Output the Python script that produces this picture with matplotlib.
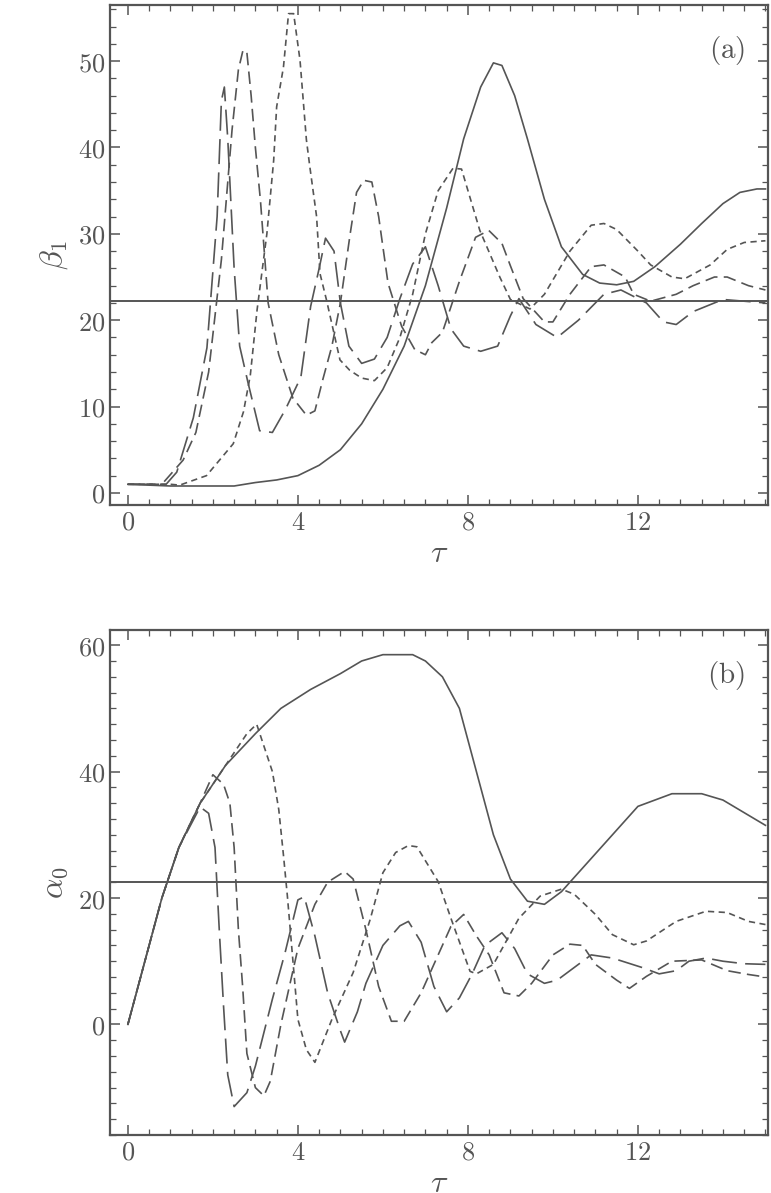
import matplotlib
matplotlib.use("Agg")
import matplotlib.pyplot as plt
from matplotlib.ticker import MultipleLocator, FuncFormatter

plt.rcParams['mathtext.fontset'] = 'cm'
plt.rcParams['font.family'] = ['DejaVu Serif']
plt.rcParams['lines.scale_dashes'] = False

C = '#555555'

# ---------------- panel (a): beta_1 ----------------
a_solid_t = [0, 1, 2, 2.5, 3, 3.5, 4, 4.5, 5, 5.5, 6, 6.5, 7, 7.5, 7.9, 8.3, 8.6, 8.8, 9.1, 9.4, 9.8, 10.2, 10.7, 11.1, 11.5, 11.9, 12.4, 13.0, 13.5, 14.0, 14.4, 14.8, 15.0]
a_solid_v = [1, 0.8, 0.8, 0.8, 1.2, 1.5, 2, 3.2, 5, 8, 12, 17, 24, 33, 41, 47, 49.8, 49.5, 46, 41, 34, 28.5, 25.3, 24.3, 24.1, 24.5, 26.2, 28.8, 31.2, 33.5, 34.8, 35.2, 35.2]

a_short_t = [0, 1.0, 1.22, 1.85, 2.48, 2.72, 2.88, 3.04, 3.27, 3.43, 3.5, 3.66, 3.78, 3.9, 4.05, 4.2, 4.28, 4.44, 4.52, 4.67, 4.99, 5.22, 5.5, 5.8, 6.1, 6.4, 6.7, 7.0, 7.3, 7.65, 7.85, 8.28, 8.75, 9.0, 9.46, 9.8, 10.4, 10.9, 11.2, 11.5, 12.0, 12.3, 12.8, 13.1, 13.7, 14.1, 14.5, 15.0]
a_short_v = [1, 1, 0.9, 2.0, 5.7, 9.4, 13.6, 21.2, 30, 38.5, 44.7, 49.3, 55.5, 55.5, 50.1, 40.9, 37.8, 32.0, 25.4, 22.4, 15.4, 14.2, 13.3, 13.0, 14.5, 18, 23, 30, 35, 37.6, 37.5, 30.4, 25, 22.4, 21.3, 23, 28, 31, 31.2, 30.5, 28, 26.4, 25, 24.8, 26.4, 28.2, 29, 29.2]

a_med_t = [0, 0.8, 1.3, 1.6, 1.9, 2.2, 2.45, 2.6, 2.71, 2.8, 2.9, 3.0, 3.12, 3.3, 3.55, 3.88, 4.2, 4.4, 4.59, 4.8, 5.0, 5.23, 5.38, 5.55, 5.74, 5.9, 6.12, 6.44, 6.75, 7.0, 7.15, 7.4, 7.8, 8.18, 8.49, 8.8, 9.0, 9.3, 9.8, 10.0, 10.4, 10.9, 11.2, 11.7, 11.9, 12.3, 12.9, 13.3, 13.8, 14.1, 14.6, 15.0]
a_med_v = [1, 1, 3.8, 7, 14, 27, 42, 49, 51.3, 51, 46, 40, 33.8, 22, 16, 11, 9, 9.5, 13.2, 17, 22, 30, 34.8, 36.2, 36, 32, 24.3, 19.3, 16.6, 16, 17.4, 18.6, 24.5, 29.6, 30.4, 28.9, 26.3, 22.5, 19.8, 19.8, 23, 26.2, 26.4, 25, 23, 22.2, 23, 24, 25, 25, 24, 23.5]

a_long_t = [0, 0.9, 1.15, 1.54, 1.86, 2.1, 2.2, 2.27, 2.35, 2.5, 2.63, 2.82, 3.1, 3.4, 3.7, 4.07, 4.3, 4.5, 4.65, 4.85, 5.0, 5.2, 5.5, 5.8, 6.1, 6.4, 6.7, 7.0, 7.3, 7.6, 7.9, 8.3, 8.7, 9.0, 9.2, 9.6, 10.1, 10.6, 11.2, 11.6, 12.2, 12.6, 12.9, 13.3, 14.0, 14.5, 15.0]
a_long_v = [1, 1, 2.4, 8.7, 16.8, 32, 45.4, 47, 41, 26, 17, 12.9, 7.2, 7, 9.6, 13.4, 21.6, 26, 29.5, 28, 22, 17, 15, 15.5, 18, 22.5, 26.5, 28.5, 24, 19, 17, 16.4, 17, 20.5, 22.5, 19.5, 18, 20, 23, 23.5, 22, 19.8, 19.5, 21, 22.4, 22.2, 22]

a_hline = 22.2

# ---------------- panel (b): alpha_0 ----------------
b_solid_t = [0, 0.2, 0.4, 0.8, 1.2, 1.7, 2.3, 3.0, 3.6, 4.3, 5.0, 5.5, 6.0, 6.7, 7.0, 7.4, 7.8, 8.2, 8.6, 9.0, 9.4, 9.8, 10.2, 10.6, 11.2, 12.0, 12.8, 13.5, 14.0, 14.5, 15.0]
b_solid_v = [0, 5, 10, 20, 28, 35, 41, 46, 50, 53, 55.5, 57.5, 58.5, 58.5, 57.5, 55, 50, 40, 30, 23, 19.5, 19, 21, 24, 28.5, 34.5, 36.5, 36.5, 35.5, 33.5, 31.5]

b_short_t = [0, 0.4, 0.8, 1.2, 1.7, 2.3, 2.8, 3.03, 3.4, 3.55, 3.66, 3.75, 3.8, 3.9, 4.0, 4.2, 4.4, 4.8, 5.3, 5.7, 6.0, 6.3, 6.6, 6.8, 7.3, 7.6, 8.05, 8.2, 8.6, 9.2, 9.7, 10.2, 10.5, 11.0, 11.4, 11.9, 12.2, 12.9, 13.6, 14.1, 14.6, 15.0]
b_short_v = [0, 10, 20, 28, 35, 41, 46, 47.5, 40, 34, 26.8, 20.5, 16.6, 8.7, 0.8, -4, -6, 0.8, 8.2, 16.6, 24, 27.2, 28.3, 28.1, 22.6, 16.8, 8.4, 8, 9.5, 16.8, 20.3, 21.4, 20.6, 17.4, 14.2, 12.6, 13.2, 16.3, 17.9, 17.7, 16.3, 15.8]

b_med_t = [0, 0.4, 0.8, 1.2, 1.7, 2.0, 2.25, 2.4, 2.5, 2.6, 2.7, 2.8, 3.0, 3.2, 3.35, 3.6, 4.0, 4.4, 4.7, 5.1, 5.3, 5.6, 5.9, 6.2, 6.5, 6.9, 7.3, 7.6, 7.9, 8.2, 8.5, 8.85, 9.2, 9.5, 10.0, 10.4, 10.7, 11.0, 11.5, 11.8, 12.2, 12.8, 13.5, 14.1, 14.6, 15.0]
b_med_v = [0, 10, 20, 28, 35, 39.5, 38, 35, 28, 15, 6, -4.6, -10, -11.3, -9, 0, 12, 19, 22.5, 24.2, 23, 15, 6, 0.5, 0.5, 5, 11, 15.5, 17.4, 14, 11, 5, 4.5, 6.5, 11, 12.7, 12.5, 9.5, 7, 5.7, 7.6, 10, 10.2, 8.5, 7.9, 7.5]

b_long_t = [0, 0.4, 0.8, 1.2, 1.7, 1.9, 2.05, 2.15, 2.25, 2.35, 2.5, 2.8, 3.0, 3.4, 3.7, 4.0, 4.15, 4.4, 4.7, 5.0, 5.1, 5.4, 5.6, 6.0, 6.4, 6.6, 6.9, 7.2, 7.5, 7.8, 8.1, 8.4, 8.8, 9.1, 9.4, 9.8, 10.1, 10.5, 10.9, 11.4, 12.1, 12.5, 12.9, 13.2, 13.6, 14.0, 14.5, 15.0]
b_long_v = [0, 10, 20, 28, 34.4, 33.4, 28, 15, 3, -8, -13, -10.8, -6.6, 4, 11.4, 19.7, 20.2, 14, 5, -1, -2.8, 2, 6.5, 12.5, 15.6, 16.3, 13, 6, 2, 4.2, 8, 12.5, 14.5, 12, 8, 6.5, 7, 9, 11, 10.5, 9, 8, 8.5, 10, 10.5, 10, 9.6, 9.5]

b_hline = 22.6

fig = plt.figure(figsize=(7.71, 11.93), dpi=100)
ax1 = fig.add_axes([0.1427, 0.5767, 0.8534, 0.4191])
ax2 = fig.add_axes([0.1427, 0.0486, 0.8534, 0.4233])

styles = [('solid', None), ('short', (4.5, 3.2)), ('med', (9, 4.5)), ('long', (18, 6))]

def draw(ax, series, hline, ylim, ymaj, ymin, ylabel, tag):
    for (name, dash), (t, v) in zip(styles, series):
        ln, = ax.plot(t, v, color=C, lw=1.2)
        if dash is not None:
            ln.set_dashes(dash)
    ax.axhline(hline, color=C, lw=1.4)
    ax.set_xlim(-0.42, 15.06)
    ax.set_ylim(*ylim)
    ax.xaxis.set_major_locator(MultipleLocator(4))
    ax.xaxis.set_minor_locator(MultipleLocator(0.5))
    ax.yaxis.set_major_locator(MultipleLocator(ymaj))
    ax.yaxis.set_minor_locator(MultipleLocator(ymin))
    fmt = FuncFormatter(lambda x, p: r'$%d$' % round(x))
    ax.xaxis.set_major_formatter(fmt)
    ax.yaxis.set_major_formatter(fmt)
    ax.tick_params(which='both', direction='in', top=True, right=True, color=C, labelcolor=C, labelsize=19)
    ax.tick_params(which='major', length=7, width=1.1)
    ax.tick_params(which='minor', length=4, width=0.9)
    for s in ax.spines.values():
        s.set_color(C)
        s.set_linewidth(1.6)
    ax.set_xlabel(r'$\tau$', fontsize=23, color=C, labelpad=2)
    ax.set_ylabel(ylabel, fontsize=23, color=C, labelpad=6)
    ax.text(0.965, 0.91, tag, transform=ax.transAxes, ha='right', va='center', fontsize=21, color=C)

draw(ax1, [(a_solid_t, a_solid_v), (a_short_t, a_short_v), (a_med_t, a_med_v), (a_long_t, a_long_v)],
     a_hline, (-1.4, 56.5), 10, 2, r'$\beta_1$', r'$(\mathrm{a})$')
draw(ax2, [(b_solid_t, b_solid_v), (b_short_t, b_short_v), (b_med_t, b_med_v), (b_long_t, b_long_v)],
     b_hline, (-17.5, 62.4), 20, 2.5, r'$\alpha_0$', r'$(\mathrm{b})$')

fig.savefig('out.png', dpi=100)
